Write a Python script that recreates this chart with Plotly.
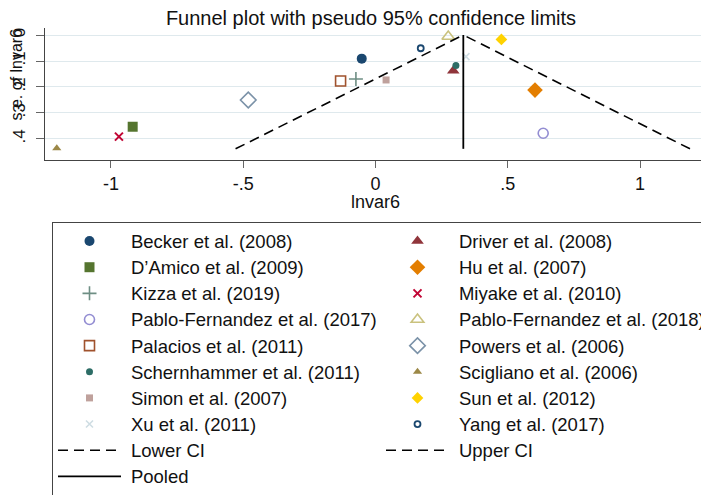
import plotly.graph_objects as go

# ---- data ----
studies = ["Becker et al. (2008)", "Driver et al. (2008)", "D\u2019Amico et al. (2009)", "Hu et al. (2007)",
           "Kizza et al. (2019)", "Miyake et al. (2010)", "Pablo-Fernandez et al. (2017)",
           "Pablo-Fernandez et al. (2018)", "Palacios et al. (2011)", "Powers et al. (2006)",
           "Schernhammer et al. (2011)", "Scigliano et al. (2006)", "Simon et al. (2007)",
           "Sun et al. (2012)", "Xu et al. (2011)", "Yang et al. (2017)"]
effect = [-0.052, 0.294, -0.918, 0.603, -0.074, -0.970, 0.634, 0.275, -0.132, -0.481,
          0.304, -1.205, 0.040, 0.476, 0.342, 0.171]
se = [0.091, 0.138, 0.353, 0.212, 0.169, 0.391, 0.378, 0.006, 0.177, 0.25,
      0.117, 0.436, 0.173, 0.017, 0.083, 0.051]

pooled = 0.332
se_max = 0.438
lower_ci_x = [-0.529, 0.332]
upper_ci_x = [1.189, 0.332]
ci_se = [se_max, 0.0]
pooled_x = [pooled, pooled]
pooled_se = [0.0, se_max]

xticks = [-1, -0.5, 0, 0.5, 1]
xticklabels = ["-1", "-.5", "0", ".5", "1"]
yticks = [0, 0.1, 0.2, 0.3, 0.4]
yticklabels = ["0", ".1", ".2", ".3", ".4"]

# ---- styles ----
styles = [
    dict(symbol="circle", color="#1a476f", size=10),
    dict(symbol="triangle-up", color="#90353b", size=11),
    dict(symbol="square", color="#55752f", size=10),
    dict(symbol="diamond", color="#e37e00", size=12),
    dict(symbol="cross-thin", color="#6e8e84", size=10, lw=1.6),
    dict(symbol="x-thin", color="#c10534", size=8, lw=2),
    dict(symbol="circle-open", color="#938dd2", size=10, lw=1.6),
    dict(symbol="triangle-up-open", color="#cac27e", size=11, lw=1.6),
    dict(symbol="square-open", color="#a0522d", size=10, lw=1.6),
    dict(symbol="diamond-open", color="#7b92a8", size=12, lw=1.6),
    dict(symbol="circle", color="#2d6d66", size=7),
    dict(symbol="triangle-up", color="#9c8847", size=8),
    dict(symbol="square", color="#bfa19c", size=7),
    dict(symbol="diamond", color="#ffd200", size=9),
    dict(symbol="x-thin", color="#cfdde3", size=7, lw=1.6),
    dict(symbol="circle-open", color="#1a476f", size=6, lw=1.8),
]

FONT = "Liberation Sans, Arial, sans-serif"
LEG_TXT = 18.5


def leg(name):
    return "\u00a0<span style='font-size:%spx'>%s</span>" % (LEG_TXT, name)


fig = go.Figure()
for name, x, y, st in zip(studies, effect, se, styles):
    lw = st.get("lw", 0)
    fig.add_trace(go.Scatter(
        x=[x], y=[y], mode="markers", name=leg(name),
        marker=dict(symbol=st["symbol"], color=st["color"], size=st["size"],
                    line=dict(color=st["color"], width=lw)),
    ))

fig.add_trace(go.Scatter(x=lower_ci_x, y=ci_se, mode="lines", name=leg("Lower CI"),
                         line=dict(color="black", width=1.6, dash="10px,6px")))
fig.add_trace(go.Scatter(x=upper_ci_x, y=ci_se, mode="lines", name=leg("Upper CI"),
                         line=dict(color="black", width=1.6, dash="10px,6px")))
fig.add_trace(go.Scatter(x=pooled_x, y=pooled_se, mode="lines", name=leg("Pooled"),
                         line=dict(color="black", width=1.8)))

# figure is drawn inside an 8px page margin: coordinates below are page coords - 8
W, H = 701, 487
fig.update_layout(
    width=W, height=H,
    margin=dict(l=37, r=7, t=20, b=335, autoexpand=False),
    paper_bgcolor="white", plot_bgcolor="white",
    font=dict(family=FONT, size=18, color="#111"),
    title=dict(text="Funnel plot with pseudo 95% confidence limits",
               x=363 / W, xanchor="center", y=1 - 3 / H, yanchor="top",
               pad=dict(t=0, b=0),
               font=dict(family=FONT, size=20, color="#111")),
    showlegend=True,
    legend=dict(
        orientation="h", xref="container", yref="container",
        x=44 / W, xanchor="left", y=1 - 214 / H, yanchor="top",
        entrywidth=250, entrywidthmode="pixels", itemwidth=63,
        maxheight=320,
        bordercolor="#444", borderwidth=1, bgcolor="white",
        font=dict(family=FONT, size=17.8, color="#111"),
        traceorder="normal", tracegroupgap=0, itemsizing="trace",
    ),
    annotations=[
        dict(text="lnvar6", xref="paper", yref="paper", x=(367 - 37) / 657, y=(152 - 194) / 132,
             xanchor="center", yanchor="middle", showarrow=False,
             font=dict(family=FONT, size=18, color="#111")),
        dict(text="s.e. of lnvar6", xref="paper", yref="paper", x=(7.5 - 37) / 657, y=(152 - 67) / 132,
             xanchor="center", yanchor="middle", showarrow=False, textangle=-90,
             font=dict(family=FONT, size=16, color="#111")),
    ],
)

fig.update_xaxes(
    range=[-1.2495, 1.2344], tickvals=xticks, ticktext=xticklabels, automargin=False,
    showgrid=False, zeroline=False, showline=True, linecolor="#444", linewidth=1,
    ticks="outside", ticklen=7, tickcolor="#666", tickfont=dict(size=18),
)
fig.update_yaxes(
    range=[0.481, -0.027], tickvals=yticks, ticktext=yticklabels, automargin=False,
    showgrid=True, gridcolor="#dfe9ed", gridwidth=1, zeroline=False,
    showline=True, linecolor="#444", linewidth=1,
    ticks="outside", ticklen=8, tickcolor="#666", tickangle=-90, tickfont=dict(size=17),
    ticklabelstandoff=4,
)

fig.write_html("out.html")
